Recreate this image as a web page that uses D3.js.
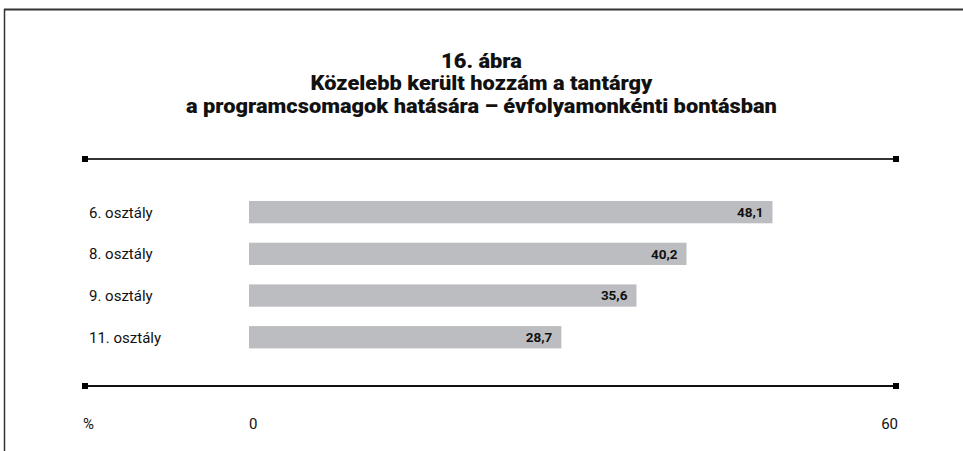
<!DOCTYPE html>
<html>
<head>
<meta charset="utf-8">
<script src="https://cdn.jsdelivr.net/npm/d3@7/dist/d3.min.js"></script>
<style>
  html, body { margin: 0; padding: 0; background: #fff; }
  svg { display: block; }
  text { font-family: Roboto, "Liberation Sans", sans-serif; }
</style>
</head>
<body>
<svg id="chart" width="963" height="451"></svg>
<script>
// Chart data
const titleLines = ["16. ábra", "Közelebb került hozzám a tantárgy", "a programcsomagok hatására – évfolyamonkénti bontásban"];
const categories = ["6. osztály", "8. osztály", "9. osztály", "11. osztály"];
const values = [48.1, 40.2, 35.6, 28.7];
const axisDomain = [0, 60];
const axisTickLabels = ["0", "60"];
const unitLabel = "%";

const W = 963, H = 451;
const svg = d3.select("#chart");

const fmt = v => d3.format(".1f")(v).replace(".", ",");

// Squeeze a set of texts horizontally so that one reference line spans the given width
function fitTexts(texts, refNode, width, cx) {
  const w = refNode.getComputedTextLength();
  const k = width / w;
  texts.attr("transform", `translate(${cx},0) scale(${k},1) translate(${-cx},0)`);
}

// Outer frame: top and left rules
svg.append("line").attr("x1", 4).attr("x2", W).attr("y1", 9.5).attr("y2", 9.5)
  .attr("stroke", "#333").attr("stroke-width", 2);
svg.append("line").attr("x1", 4.5).attr("x2", 4.5).attr("y1", 9).attr("y2", H)
  .attr("stroke", "#333").attr("stroke-width", 1.5);

// Title, three centred bold lines
const titleTexts = svg.append("g").selectAll("text").data(titleLines).join("text")
  .attr("x", 481.5)
  .attr("y", (d, i) => 68 + i * 22.5)
  .attr("text-anchor", "middle")
  .attr("font-size", 19.5)
  .attr("font-weight", 900)
  .attr("fill", "#111")
  .text(d => d);
fitTexts(titleTexts, titleTexts.nodes()[2], 591, 481.5);

// Scales
const x = d3.scaleLinear().domain(axisDomain).range([249, 902]);
const y = d3.scaleBand().domain(categories).range([191.3, 358.1])
  .paddingInner(0.465).paddingOuter(0.2325);

// Horizontal rules with square end caps
function rule(yPos, color) {
  const g = svg.append("g");
  g.append("line").attr("x1", 85).attr("x2", 896).attr("y1", yPos).attr("y2", yPos)
    .attr("stroke", color).attr("stroke-width", 2);
  [85, 896].forEach(cx => g.append("rect")
    .attr("x", cx - 3).attr("y", yPos - 3).attr("width", 6).attr("height", 6).attr("fill", "#000"));
}
rule(159, "#333");
rule(386, "#111");

// Bars
const rows = categories.map((c, i) => ({ cat: c, value: values[i] }));
svg.append("g").selectAll("rect").data(rows).join("rect")
  .attr("x", x(0))
  .attr("y", d => y(d.cat))
  .attr("width", d => x(d.value) - x(0))
  .attr("height", y.bandwidth())
  .attr("fill", "#bcbdc0");

// Value labels inside bar ends
svg.append("g").selectAll("text").data(rows).join("text")
  .attr("x", d => x(d.value) - 9)
  .attr("y", d => y(d.cat) + y.bandwidth() / 2)
  .attr("dy", "0.36em")
  .attr("text-anchor", "end")
  .attr("font-size", 13.5)
  .attr("font-weight", "bold")
  .attr("fill", "#111")
  .text(d => fmt(d.value));

// Category labels
svg.append("g").selectAll("text").data(rows).join("text")
  .attr("x", 89)
  .attr("y", d => y(d.cat) + y.bandwidth() / 2)
  .attr("dy", "0.36em")
  .attr("font-size", 15)
  .attr("fill", "#111")
  .text(d => d.cat);

// Axis end labels and unit
const axisY = 424;
svg.append("text").attr("x", 83).attr("y", axisY).attr("dy", "0.36em")
  .attr("font-size", 15).attr("fill", "#111").text(unitLabel);
svg.append("text").attr("x", x(axisDomain[0])).attr("y", axisY).attr("dy", "0.36em")
  .attr("font-size", 15).attr("fill", "#111").text(axisTickLabels[0]);
svg.append("text").attr("x", x(axisDomain[1]) - 4).attr("y", axisY).attr("dy", "0.36em")
  .attr("text-anchor", "end")
  .attr("font-size", 15).attr("fill", "#111").text(axisTickLabels[1]);
</script>
</body>
</html>
